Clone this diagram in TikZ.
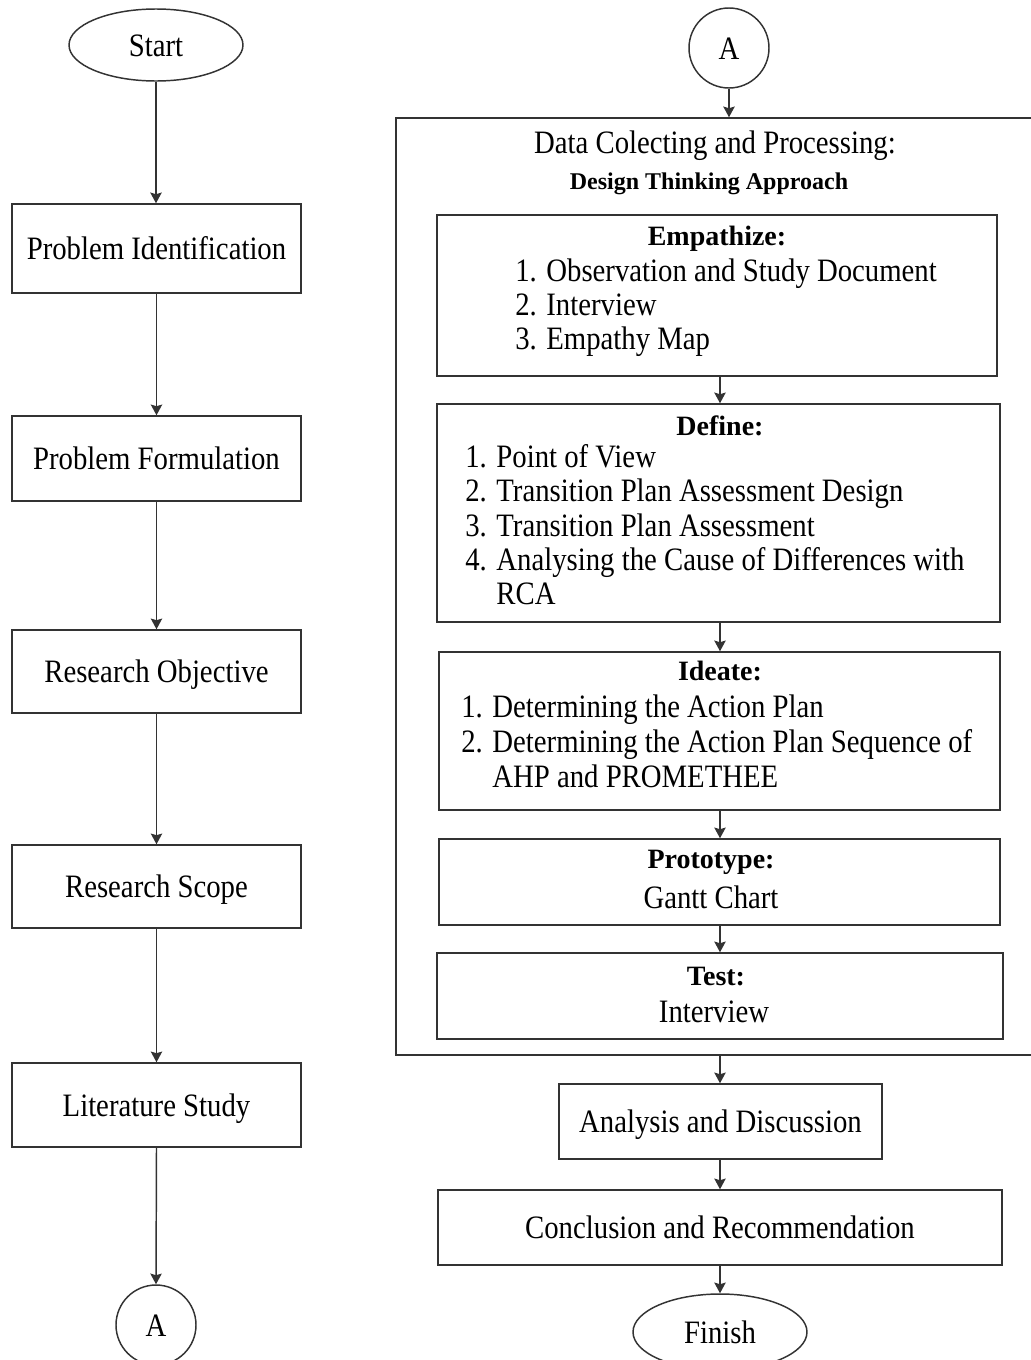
\documentclass[tikz,border=0pt]{standalone}
\usepackage{fontspec}
\setmainfont{Liberation Serif}[FakeStretch=0.88]
\newfontfamily\headfont{Liberation Serif Bold}
\usetikzlibrary{arrows.meta,shapes.geometric}

\begin{document}
\begin{tikzpicture}[x=0.75pt,y=-0.75pt,
  every node/.style={font=\fontsize{24.5}{29}\selectfont},
  line/.style={draw=black!80, line width=1.1pt},
  frame/.style 2 args={line, rectangle, inner sep=0pt,
    minimum width=#1*0.75pt, minimum height=#2*0.75pt},
  box/.style 2 args={frame={#1}{#2}, text height=16.5pt, text depth=0pt},
  oval/.style={line, ellipse, inner sep=0pt, minimum width=130.5pt, text height=16.5pt, text depth=0pt},
  conn/.style={line, circle, inner sep=0pt, minimum size=60pt, text height=16.5pt, text depth=0pt},
  arr/.style={line, -{Stealth[length=8pt,width=8.5pt,inset=1.2pt]}},
  head/.style={font=\headfont\fontsize{21}{24}\selectfont, anchor=base, inner sep=0pt},
  item/.style={anchor=base west, inner sep=0pt},
  plain/.style={anchor=base, inner sep=0pt},
]
\clip (0,0) rectangle (1031,1360);
\fill[white] (0,0) rectangle (1031,1360);

% ---- left column ----
\node[oval, minimum height=54pt] (start) at (156,45) {Start};
\node[box={289}{89}] (pi) at (156.5,248.5) {Problem Identification};
\node[box={289}{85}] (pf) at (156.5,458.5) {Problem Formulation};
\node[box={289}{83}] (ro) at (156.5,671.5) {Research Objective};
\node[box={289}{83}] (rs) at (156.5,886.5) {Research Scope};
\node[box={289}{84}] (ls) at (156.5,1105) {Literature Study};
\node[conn] (aout) at (156,1325) {A};

\draw[arr] (start.south) -- (start.south |- pi.north);
\draw[arr] (pi.south) -- (pf.north);
\draw[arr] (pf.south) -- (ro.north);
\draw[arr] (ro.south) -- (rs.north);
\draw[arr] (rs.south) -- (ls.north);
\draw[arr] (ls.south) -- (aout.north);

% ---- right column ----
\node[conn] (ain) at (729,48) {A};
\node[frame={644}{937}] (dc) at (718,586.5) {};
\node[plain] (dctitle) at (715,153) {Data Colecting and Processing:};
\node[anchor=base, inner sep=0pt, font=\headfont\fontsize{18}{22}\selectfont] (dtitle) at (709,189) {Design Thinking Approach};

% Empathize
\node[frame={560}{161}] (emp) at (717,295.5) {};
\node[head] (emph) at (717,245) {Empathize:};
\node[item] (emp1) at (515,281) {1. Observation and Study Document};
\node[item] (emp2) at (515,315) {2. Interview};
\node[item] (emp3) at (515,349) {3. Empathy Map};

% Define
\node[frame={563}{218}] (def) at (718.5,513) {};
\node[head] (defh) at (720,435) {Define:};
\node[item] (def1) at (465,467) {1. Point of View};
\node[item] (def2) at (465,501) {2. Transition Plan Assessment Design};
\node[item] (def3) at (465,536) {3. Transition Plan Assessment};
\node[item] (def4) at (465,570) {4. Analysing the Cause of Differences with};
\node[item] (def5) at (465,604) {\phantom{4. }RCA};

% Ideate
\node[frame={561}{158}] (ide) at (719.5,731) {};
\node[head] (ideh) at (720,680) {Ideate:};
\node[item] (ide1) at (461,717) {1. Determining the Action Plan};
\node[item] (ide2) at (461,752) {2. Determining the Action Plan Sequence of};
\node[item] (ide3) at (461,787) {\phantom{2. }AHP and PROMETHEE};

% Prototype
\node[frame={561}{86}] (pro) at (719.5,882) {};
\node[head] (proh) at (711,868) {Prototype:};
\node[plain] (pro1) at (711,908) {Gantt Chart};

% Test
\node[frame={566}{86}] (tst) at (720,996) {};
\node[head] (tsth) at (716,985) {Test:};
\node[plain] (tst1) at (714,1022) {Interview};

% after the design thinking block
\node[box={323}{75}] (ad) at (720.5,1121.5) {Analysis and Discussion};
\node[box={564}{75}] (cr) at (720,1227.5) {Conclusion and Recommendation};
\node[oval, minimum height=57pt] (fin) at (720,1332) {Finish};

\draw[arr] (ain.south) -- (ain.south |- dc.north);
\draw[arr] (emp.south -| fin) -- (def.north -| fin);
\draw[arr] (def.south -| fin) -- (ide.north -| fin);
\draw[arr] (ide.south -| fin) -- (pro.north -| fin);
\draw[arr] (pro.south -| fin) -- (tst.north -| fin);
\draw[arr] (dc.south -| fin) -- (ad.north -| fin);
\draw[arr] (ad.south -| fin) -- (cr.north -| fin);
\draw[arr] (cr.south -| fin) -- (fin.north);
\end{tikzpicture}
\end{document}
